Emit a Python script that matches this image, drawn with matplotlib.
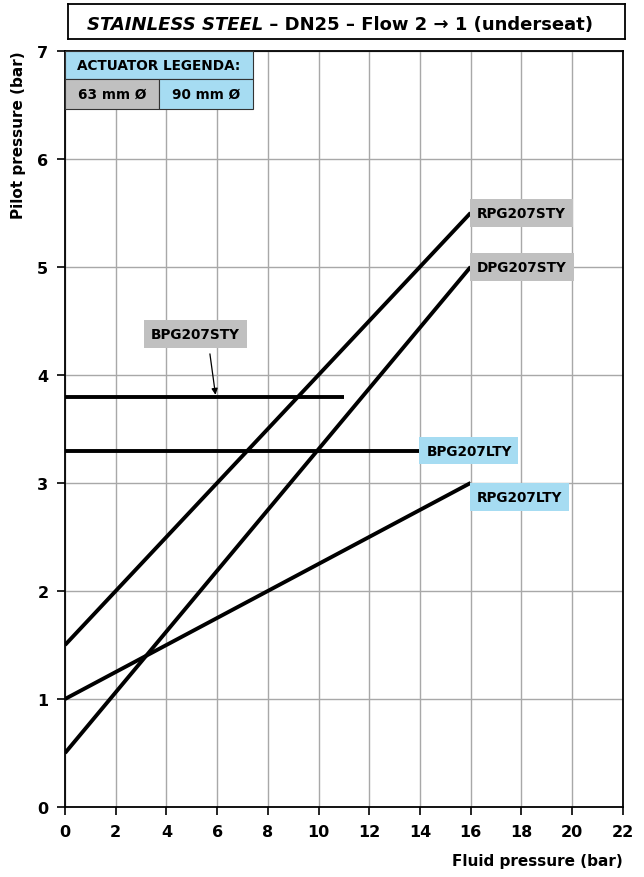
"""Pilot pressure vs fluid pressure chart, stainless steel DN25, flow 2->1."""

import matplotlib

matplotlib.use("Agg")
import matplotlib.pyplot as plt
from matplotlib.patches import Rectangle

FONT = "DejaVu Sans"
GREY = "#c0c0c0"
BLUE = "#a6dcf2"

# straight actuator curves: label, x values, y values, box colour
series_names = ["RPG207STY", "DPG207STY", "RPG207LTY", "BPG207LTY", "BPG207STY"]
series_x = [[0, 16], [0, 16], [0, 16], [0, 14], [0, 11]]
series_y = [[1.5, 5.5], [0.5, 5.0], [1.0, 3.0], [3.3, 3.3], [3.8, 3.8]]
series_box = [GREY, GREY, BLUE, BLUE, GREY]

# label anchor positions (data coords, left edge / vertical centre of box)
label_x = [16.25, 16.25, 16.25, 14.25, 3.4]
label_y = [5.5, 5.0, 2.87, 3.3, 4.38]

x_ticks = list(range(0, 23, 2))
y_ticks = list(range(0, 8))

fig = plt.figure(figsize=(6.44, 8.78), dpi=100)
ax = fig.add_axes([0.101, 0.0797, 0.866, 0.8613])
ax.set_xlim(0, 22)
ax.set_ylim(0, 7)
ax.set_xticks(x_ticks)
ax.set_yticks(y_ticks)
ax.grid(True, color="#a8a8a8", linewidth=1.0)
ax.set_axisbelow(True)
for spine in ax.spines.values():
    spine.set_linewidth(1.3)
ax.tick_params(direction="out", length=6, width=1.2, pad=6)
for lbl in ax.get_xticklabels() + ax.get_yticklabels():
    lbl.set_fontfamily(FONT)
    lbl.set_fontweight("heavy")
    lbl.set_fontsize(11.5)

for name, xs, ys, box, lx, ly in zip(series_names, series_x, series_y, series_box, label_x, label_y):
    ax.plot(xs, ys, color="black", linewidth=2.8, solid_capstyle="butt", zorder=3)
    ax.text(lx, ly, name, ha="left", va="center", fontsize=9.8, fontweight="bold",
            family=FONT, zorder=4,
            bbox=dict(boxstyle="square,pad=0.5", facecolor=box, edgecolor="none"))

# leader from the BPG207STY box down to its line
ax.annotate("", xy=(5.95, 3.79), xytext=(5.7, 4.22),
            arrowprops=dict(arrowstyle="-|>", color="black", linewidth=0.9,
                            mutation_scale=9), zorder=4)

ax.set_xlabel("Fluid pressure (bar)", fontsize=11, fontweight="bold", family=FONT,
              loc="right", labelpad=10)
ax.set_ylabel("Pilot pressure (bar)", fontsize=11, fontweight="bold", family=FONT,
              loc="top", labelpad=8)

# legend table in the top-left corner of the plot
legend_x = [0.0, 0.0, 3.7]
legend_y = [6.74, 6.46, 6.46]
legend_w = [7.4, 3.7, 3.7]
legend_h = [0.26, 0.28, 0.28]
legend_colour = [BLUE, GREY, BLUE]
legend_text = ["ACTUATOR LEGENDA:", "63 mm \u00d8", "90 mm \u00d8"]
for cx, cy, w, h, colour, text in zip(legend_x, legend_y, legend_w, legend_h,
                                      legend_colour, legend_text):
    ax.add_patch(Rectangle((cx, cy), w, h, facecolor=colour, edgecolor="#333333",
                           linewidth=0.8, zorder=5))
    ax.text(cx + w / 2, cy + h / 2, text, ha="center", va="center", fontsize=9.8,
            fontweight="bold", family=FONT, zorder=6)

# title box above the plot
title_ax = fig.add_axes([0.105, 0.954, 0.865, 0.04])
title_ax.set_xticks([])
title_ax.set_yticks([])
for spine in title_ax.spines.values():
    spine.set_linewidth(1.3)
first = title_ax.text(0.035, 0.45, "STAINLESS STEEL", ha="left", va="center", fontsize=13,
                      fontweight="bold", fontstyle="italic", family=FONT,
                      transform=title_ax.transAxes)
title_ax.annotate(" \u2013 DN25 \u2013 Flow 2 \u2192 1 (underseat)", xy=(1.0, 0.5),
                  xycoords=first, ha="left", va="center", fontsize=13,
                  fontweight="bold", family=FONT)

fig.savefig("out.png", dpi=100)
